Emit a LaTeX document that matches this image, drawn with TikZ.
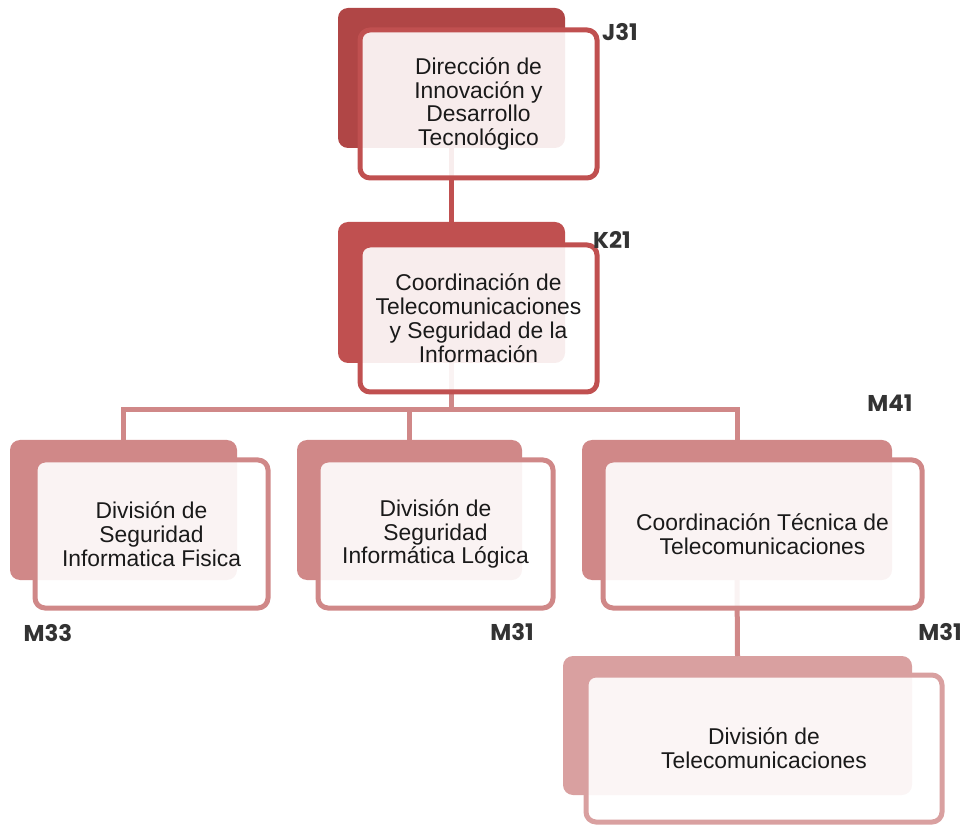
\documentclass[tikz,border=0pt]{standalone}
\usepackage{fontspec}
\setmainfont{Liberation Sans}
\newfontfamily\codefont{Poppins}
\usetikzlibrary{positioning}
\definecolor{rojoA}{HTML}{B04646}
\definecolor{rojoB}{HTML}{C05050}
\definecolor{rosaA}{HTML}{D08888}
\definecolor{rosaB}{HTML}{D9A0A0}
\definecolor{tinta}{HTML}{1A1A1A}
\definecolor{clave}{HTML}{333333}

\begin{document}
\begin{tikzpicture}[
    back/.style={fill=#1, rounded corners=0.2cm, inner sep=0pt, outer sep=0pt},
    front/.style={draw=#1, line width=0.1cm, fill=white, fill opacity=0.9,
      text opacity=1, rounded corners=0.2cm, align=center, text=tinta,
      font=\fontsize{13}{13.6}\selectfont, inner sep=0pt},
    conn/.style={draw=#1, line width=0.1cm},
    code/.style={text=clave, font=\codefont\bfseries\fontsize{13}{14}\selectfont}]
  \useasboundingbox (0,0) rectangle (19.28,-16.52);

  % back plates
  \node[back=rojoA, minimum width=4.54cm, minimum height=2.8cm] (b1) at (9.03,-1.56) {};
  \node[back=rojoB, minimum width=4.54cm, minimum height=2.82cm] (b2) at (9.03,-5.85) {};
  \node[back=rosaA, minimum width=4.54cm, minimum height=2.8cm] (b3) at (2.47,-10.2) {};
  \node[back=rosaA, minimum width=4.5cm, minimum height=2.8cm] (b4) at (8.19,-10.2) {};
  \node[back=rosaA, minimum width=6.2cm, minimum height=2.8cm] (b5) at (14.74,-10.2) {};
  \node[back=rosaB, minimum width=6.98cm, minimum height=2.78cm] (b6) at (14.75,-14.51) {};

  % connectors
  \coordinate (bus) at (0,-8.2);
  \draw[conn=rojoB] (b1.south) -- (b2.north);
  \draw[conn=rosaA] (b2.south) -- (b2.south |- bus);
  \draw[conn=rosaA] (b3.north) -- (b3.north |- bus) -- (b5.north |- bus) -- (b5.north);
  \draw[conn=rosaA] (b4.north) -- (b4.north |- bus);
  \draw[conn=rosaA] (b5.south) -- (b6.north);

  % front boxes
  \node[front=rojoB, minimum width=4.74cm, minimum height=2.96cm] (d1) at (9.57,-2.08)
    {Dirección de\\Innovación y\\Desarrollo\\Tecnológico};
  \node[front=rojoB, minimum width=4.74cm, minimum height=2.94cm] (d2) at (9.57,-6.37)
    {Coordinación de\\Telecomunicaciones\\y Seguridad de la\\Información};
  \node[front=rosaA, minimum width=4.66cm, minimum height=2.96cm] (d3) at (3.03,-10.68)
    {División de\\Seguridad\\Informatica Fisica};
  \node[front=rosaA, minimum width=4.7cm, minimum height=2.96cm] (d4) at (8.71,-10.68)
    {División de\\Seguridad\\Informática Lógica};
  \node[front=rosaA, minimum width=6.38cm, minimum height=2.96cm] (d5) at (15.25,-10.68)
    {Coordinación Técnica de\\Telecomunicaciones};
  \node[front=rosaB, minimum width=7.12cm, minimum height=2.94cm] (d6) at (15.28,-14.97)
    {División de\\Telecomunicaciones};

  % codes
  \node[code] (k1) at (12.4,-0.64) {J31};
  \node[code] (k2) at (12.24,-4.8) {K21};
  \node[code] (k5) at (17.8,-8.06) {M41};
  \node[code] (k3) at (0.96,-12.66) {M33};
  \node[code] (k4) at (10.24,-12.64) {M31};
  \node[code] (k6) at (18.8,-12.64) {M31};
\end{tikzpicture}
\end{document}
